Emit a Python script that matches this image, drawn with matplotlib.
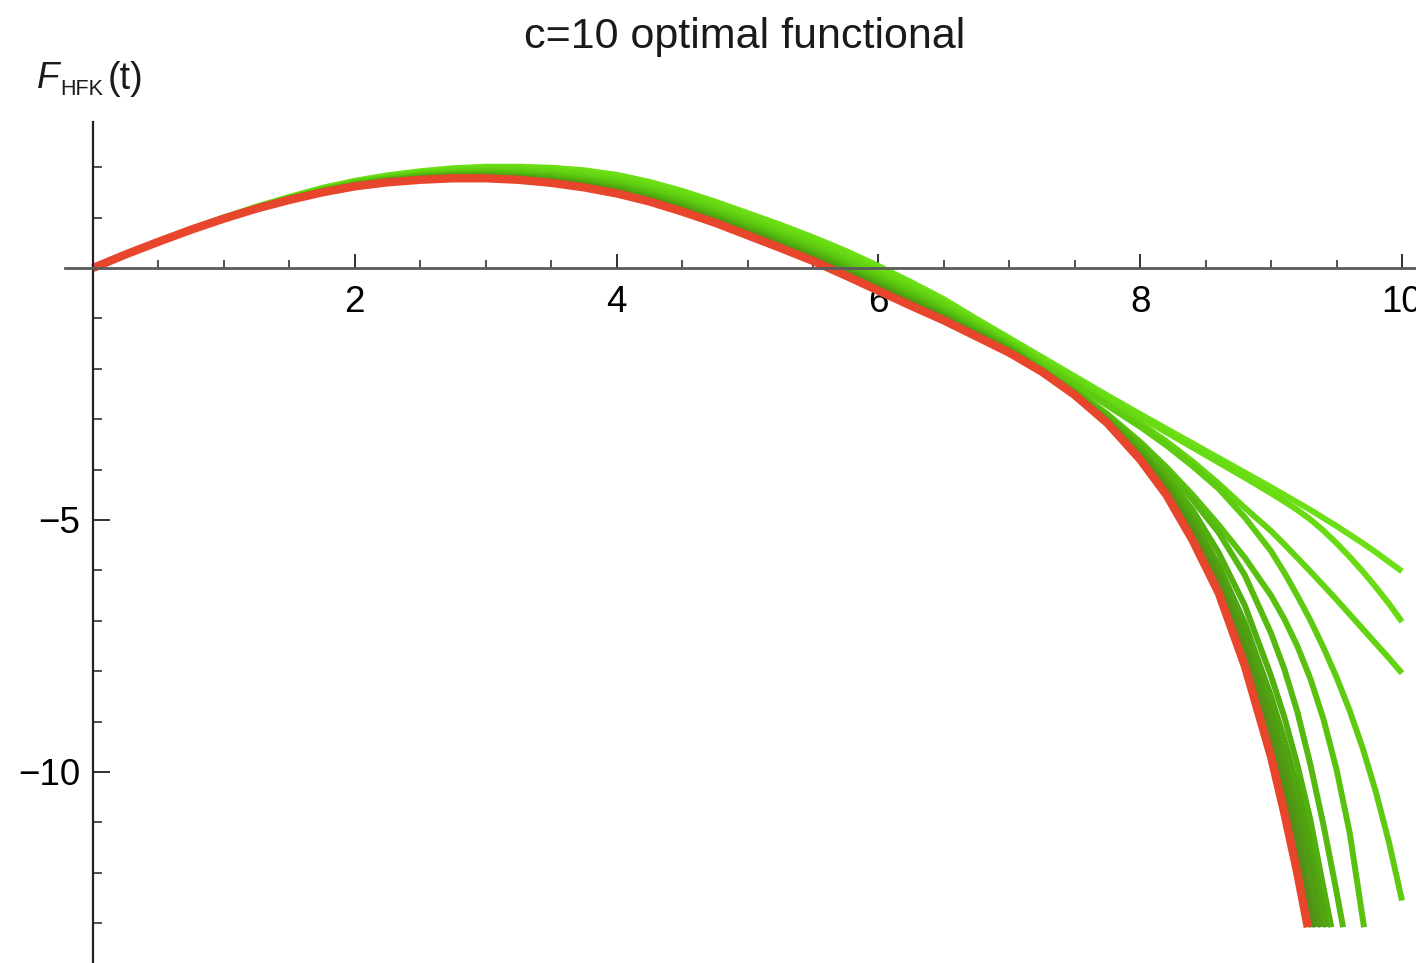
import matplotlib.pyplot as plt
from matplotlib.ticker import MultipleLocator, FixedLocator

plt.rcParams['font.family'] = ['Liberation Sans', 'DejaVu Sans']

# sample points in t shared by all curves (each curve uses a prefix of it)
t_grid = [0.0, 0.25, 0.5, 0.75, 1.0, 1.25, 1.5, 1.75, 2.0, 2.25, 2.5, 2.75, 3.0, 3.25,
          3.5, 3.75, 4.0, 4.25, 4.5, 4.75, 5.0, 5.25, 5.5, 5.75, 6.0, 6.25, 6.5, 6.75, 7.0,
          7.25, 7.5, 7.75, 8.0, 8.2, 8.4, 8.6, 8.8, 9.0, 9.1, 9.2, 9.3, 9.4, 9.5,
          9.6, 9.7, 9.8, 9.9, 10.0]

# green approximations, outermost first
g1 = [0, 0.27, 0.53, 0.78, 1.00, 1.22, 1.41, 1.59, 1.73, 1.84, 1.92, 1.98, 2.01, 2.01,
      1.99, 1.94, 1.85, 1.71, 1.53, 1.32, 1.09, 0.86, 0.61, 0.34, 0.04, -0.28, -0.62, -1.01, -1.39,
      -1.77, -2.15, -2.53, -2.90, -3.19, -3.48, -3.77, -4.06, -4.35, -4.50, -4.65, -4.80, -4.96,
      -5.12, -5.29, -5.46, -5.64, -5.83, -6.02]
g2 = [0, 0.27, 0.53, 0.77, 1.00, 1.21, 1.40, 1.57, 1.72, 1.82, 1.90, 1.95, 1.98, 1.98,
      1.95, 1.89, 1.80, 1.65, 1.48, 1.27, 1.03, 0.80, 0.55, 0.27, -0.02, -0.34, -0.68, -1.05, -1.43,
      -1.82, -2.20, -2.58, -2.96, -3.26, -3.56, -3.86, -4.16, -4.47, -4.63, -4.80, -4.99, -5.21,
      -5.46, -5.73, -6.02, -6.33, -6.66, -7.02]
g3 = [0, 0.27, 0.53, 0.77, 0.99, 1.20, 1.39, 1.56, 1.70, 1.80, 1.87, 1.92, 1.95, 1.94,
      1.91, 1.84, 1.75, 1.60, 1.42, 1.20, 0.97, 0.73, 0.48, 0.20, -0.10, -0.41, -0.74, -1.10, -1.47,
      -1.88, -2.27, -2.67, -3.08, -3.44, -3.84, -4.28, -4.76, -5.22, -5.48, -5.75, -6.02, -6.30,
      -6.58, -6.87, -7.16, -7.45, -7.74, -8.04]
g4 = [0, 0.27, 0.53, 0.77, 0.99, 1.20, 1.39, 1.55, 1.68, 1.78, 1.85, 1.89, 1.91, 1.90,
      1.86, 1.79, 1.70, 1.54, 1.36, 1.14, 0.91, 0.66, 0.41, 0.13, -0.17, -0.47, -0.80, -1.15, -1.51,
      -1.92, -2.32, -2.73, -3.15, -3.52, -3.93, -4.38, -4.95, -5.62, -6.04, -6.50, -6.99, -7.53,
      -8.12, -8.78, -9.53, -10.39, -11.39, -12.55]
g5 = [0, 0.27, 0.52, 0.77, 0.99, 1.19, 1.38, 1.54, 1.67, 1.76, 1.83, 1.87, 1.89, 1.87,
      1.83, 1.75, 1.65, 1.49, 1.31, 1.09, 0.85, 0.61, 0.36, 0.07, -0.23, -0.53, -0.85, -1.19, -1.55,
      -1.99, -2.42, -2.90, -3.45, -3.95, -4.50, -5.10, -5.75, -6.50, -6.96, -7.50, -8.15, -8.95,
      -9.95, -11.20]
g6 = [0, 0.27, 0.52, 0.77, 0.99, 1.19, 1.37, 1.53, 1.66, 1.75, 1.81, 1.85, 1.87, 1.84,
      1.80, 1.72, 1.62, 1.46, 1.27, 1.05, 0.81, 0.57, 0.31, 0.03, -0.27, -0.57, -0.89, -1.23, -1.57,
      -2.01, -2.45, -2.94, -3.50, -4.02, -4.60, -5.25, -6.10, -7.25, -7.95, -8.80, -9.85, -11.05,
      -12.38]
g7 = [0, 0.27, 0.52, 0.76, 0.99, 1.19, 1.37, 1.52, 1.65, 1.74, 1.80, 1.83, 1.84, 1.82,
      1.77, 1.69, 1.58, 1.42, 1.24, 1.01, 0.77, 0.53, 0.27, -0.01, -0.31, -0.61, -0.92, -1.26, -1.60,
      -2.03, -2.48, -3.00, -3.58, -4.15, -4.80, -5.65, -6.70, -8.10, -8.90, -9.85, -10.95, -12.30]
g8 = [0, 0.27, 0.52, 0.76, 0.98, 1.18, 1.36, 1.52, 1.64, 1.73, 1.78, 1.82, 1.83, 1.80,
      1.75, 1.67, 1.55, 1.39, 1.20, 0.98, 0.74, 0.49, 0.23, -0.05, -0.35, -0.65, -0.96, -1.29, -1.62,
      -2.04, -2.49, -3.03, -3.65, -4.25, -4.98, -5.90, -7.05, -8.50, -9.35, -10.30, -11.45, -12.75]
g9 = [0, 0.27, 0.52, 0.76, 0.98, 1.18, 1.36, 1.51, 1.64, 1.72, 1.77, 1.80, 1.81, 1.78,
      1.73, 1.65, 1.53, 1.37, 1.18, 0.96, 0.71, 0.46, 0.21, -0.08, -0.38, -0.68, -0.98, -1.31, -1.64,
      -2.05, -2.50, -3.05, -3.70, -4.33, -5.10, -6.08, -7.30, -8.85, -9.75, -10.75, -11.95]
g10 = [0, 0.27, 0.52, 0.76, 0.98, 1.18, 1.36, 1.51, 1.63, 1.71, 1.77, 1.79, 1.80, 1.77,
       1.72, 1.63, 1.51, 1.35, 1.16, 0.93, 0.69, 0.44, 0.18, -0.11, -0.41, -0.70, -1.00, -1.32, -1.65,
       -2.05, -2.51, -3.06, -3.74, -4.40, -5.22, -6.25, -7.55, -9.20, -10.15, -11.20, -12.55]
g11 = [0, 0.27, 0.52, 0.76, 0.98, 1.18, 1.35, 1.50, 1.63, 1.71, 1.76, 1.79, 1.79, 1.76,
       1.71, 1.62, 1.50, 1.34, 1.14, 0.92, 0.67, 0.42, 0.16, -0.13, -0.43, -0.72, -1.02, -1.34, -1.67,
       -2.06, -2.51, -3.07, -3.77, -4.45, -5.31, -6.35, -7.75, -9.48, -10.50, -11.65]
# optimal functional (red)
f_opt = [0, 0.27, 0.52, 0.76, 0.98, 1.18, 1.35, 1.50, 1.62, 1.70, 1.75, 1.78, 1.78, 1.75,
         1.69, 1.60, 1.48, 1.32, 1.12, 0.90, 0.65, 0.40, 0.14, -0.15, -0.45, -0.75, -1.04, -1.36, -1.68,
         -2.06, -2.52, -3.08, -3.80, -4.50, -5.40, -6.45, -7.90, -9.70, -10.80, -12.00]

greens = [g1, g2, g3, g4, g5, g6, g7, g8, g9, g10, g11]
# where the steep curves leave the plot range (bottom)
green_cut_t = [None, None, None, None, 9.71, 9.55, 9.46, 9.42, 9.38, 9.34, 9.31]
f_opt_cut_t = 9.28
y_cut = -13.08

green_colors = ['#6ce016', '#68db13', '#63d411', '#5ecb10', '#59c20f', '#55b90f',
                '#51b00e', '#4fa60f', '#509d12', '#529415', '#568b18']
red_color = '#e8462c'


def curve(ys, cut):
    xs = list(t_grid[:len(ys)])
    ys = list(ys)
    if cut is not None:
        xs.append(cut)
        ys.append(y_cut)
    return xs, ys


W, H = 1416, 963
fig = plt.figure(figsize=(W / 100, H / 100), dpi=100)
ax = fig.add_axes([65 / W, 0, (W - 65) / W, (H - 122) / H])

for ys, cut, col in zip(greens, green_cut_t, green_colors):
    xs, yy = curve(ys, cut)
    ax.plot(xs, yy, color=col, lw=4.3, solid_capstyle='butt', solid_joinstyle='round')
xs, yy = curve(f_opt, f_opt_cut_t)
ax.plot(xs, yy, color=red_color, lw=6.0, solid_capstyle='butt', solid_joinstyle='round')

ax.set_xlim(-0.214, 10.107)
ax.set_ylim(-13.79, 2.897)

for s in ['top', 'right']:
    ax.spines[s].set_visible(False)
ax.spines['left'].set_position(('data', 0))
ax.spines['bottom'].set_position(('data', 0))
ax.spines['left'].set_color('#222222')
ax.spines['left'].set_linewidth(1.6)
ax.spines['bottom'].set_color('#5a5a5a')
ax.spines['bottom'].set_linewidth(2.0)

ax.xaxis.set_major_locator(FixedLocator([2, 4, 6, 8, 10]))
ax.xaxis.set_minor_locator(MultipleLocator(0.5))
ax.yaxis.set_major_locator(FixedLocator([-5, -10]))
ax.yaxis.set_minor_locator(FixedLocator([v for v in range(-13, 3) if v not in (-5, -10, 0)]))

ax.tick_params(axis='x', which='major', direction='in', length=10, width=1.3,
               color='#222222', pad=12, labelsize=26.5)
ax.tick_params(axis='x', which='minor', direction='in', length=6, width=1.2, color='#333333')
ax.tick_params(axis='y', which='major', direction='in', length=12, width=1.3,
               color='#222222', pad=9, labelsize=26.5)
ax.tick_params(axis='y', which='minor', direction='in', length=6.5, width=1.2, color='#333333')

fig.text(745 / W, 1 - 48 / H, 'c=10 optimal functional', ha='center', va='baseline',
         fontsize=31, color='#1a1a1a')

# axis label F_HFK(t)
fig.text(37 / W, 1 - 88 / H, 'F', ha='left', va='baseline', fontsize=26.5,
         style='italic', color='#1a1a1a')
fig.text(60 / W, 1 - 95 / H, 'HFK', ha='left', va='baseline', fontsize=15.5, color='#1a1a1a')
fig.text(108 / W, 1 - 89 / H, '(t)', ha='left', va='baseline', fontsize=27, color='#1a1a1a')

fig.savefig('out.png', dpi=100)
